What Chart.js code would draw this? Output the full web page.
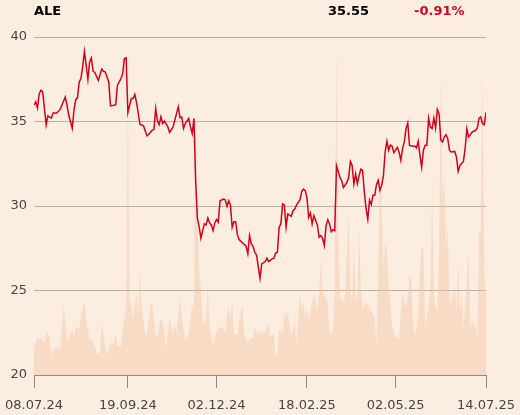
<!DOCTYPE html>
<html>
<head>
<meta charset="utf-8">
<script src="https://cdn.jsdelivr.net/npm/chart.js@4/dist/chart.umd.min.js"></script>
<style>
  html, body { margin: 0; padding: 0; background: #fcede1; }
  #wrap { position: relative; width: 520px; height: 415px; }
</style>
</head>
<body>
<div id="wrap"><canvas id="chart" width="520" height="415"></canvas></div>
<script>
// ── Data ──
const ticker = 'ALE';
const lastPrice = '35.55';
const dayChange = '-0.91%';

// x ticks (session index) and their labels
const tickDays = [0, 54, 105, 157, 208, 260];
const tickLabels = ['08.07.24', '19.09.24', '02.12.24', '18.02.25', '02.05.25', '14.07.25'];

// closing price, by session index
const priceDays = [0,1,2,3,4,5,7,8,10,11,13,15,16,18,19,20,22,23,24,25,26,27,28,29,30,31,32,33,34,35,37,39,40,41,43,44,46,47,48,50,51,52,53,54,55,56,57,58,59,61,63,65,66,68,69,70,71,72,73,74,75,77,78,80,81,83,84,85,86,87,89,90,91,92,93,94,95,96,97,98,99,100,101,102,103,104,105,106,107,109,110,111,112,113,114,115,116,117,118,120,122,123,124,125,126,127,128,130,131,133,134,135,137,138,139,140,141,142,143,144,145,146,148,149,150,151,153,154,155,156,157,158,159,160,161,163,164,165,166,167,168,169,170,171,172,173,174,176,177,178,180,181,182,183,184,185,186,187,188,189,190,191,192,193,194,195,196,197,198,199,200,201,202,203,204,205,206,207,209,210,211,212,213,214,215,216,217,219,220,221,222,223,224,225,226,227,228,229,230,231,232,233,234,235,236,237,238,239,240,242,243,244,245,247,248,249,250,251,252,254,255,256,257,258,259,260];
const prices = [35.96,36.16,35.8,36.65,36.85,36.75,34.8,35.33,35.2,35.5,35.5,35.7,35.96,36.45,35.96,35.37,34.6,35.67,36.3,36.4,37.34,37.54,38.23,39.15,38.33,37.5,38.52,38.76,37.97,37.9,37.44,38.1,37.97,37.93,37.34,35.93,35.96,36.0,37.15,37.54,37.83,38.72,38.76,35.53,35.96,36.36,36.36,36.6,36.12,34.82,34.74,34.15,34.23,34.49,34.53,35.77,35.02,34.82,35.28,34.88,35.02,34.68,34.35,34.68,35.08,35.87,35.22,35.26,34.59,34.88,35.18,34.68,34.29,35.18,31.44,29.27,28.78,28.09,28.54,28.94,28.88,29.29,29.0,28.88,28.54,29.0,29.2,29.04,30.31,30.41,30.37,29.98,30.31,30.06,28.74,29.07,29.07,28.29,28.01,27.81,27.62,27.17,28.25,27.76,27.62,27.26,27.1,25.73,26.57,26.71,26.91,26.71,26.87,26.91,27.22,27.26,28.74,28.94,30.12,30.06,28.74,29.53,29.39,29.72,29.82,30.06,30.37,30.85,31.0,30.91,30.51,29.33,29.59,28.94,29.43,28.88,28.15,28.25,28.09,27.66,28.84,29.19,28.94,28.48,28.6,28.54,32.38,31.7,31.5,31.1,31.4,31.7,32.64,32.4,31.3,31.9,31.32,31.8,32.17,32.1,30.83,29.84,29.21,30.34,30.08,30.63,30.63,31.26,31.52,30.93,31.22,31.81,33.2,33.83,33.3,33.6,33.55,33.16,33.47,33.2,32.7,33.4,33.79,34.58,34.91,33.59,33.55,33.55,33.43,33.83,33.0,32.3,33.3,33.6,33.6,35.2,34.67,34.58,35.2,34.6,35.72,35.46,33.89,33.79,34.08,34.22,33.98,33.3,33.2,33.23,32.9,32.05,32.4,32.64,33.39,34.58,34.08,34.22,34.38,34.48,34.62,35.2,35.27,34.87,34.81,35.55];

// traded volume, relative (0-100 = full plot height)
const volDays = [0,2,3,4,6,7,9,10,12,13,15,17,18,19,21,22,23,24,26,27,29,30,32,33,35,36,38,39,41,42,43,45,46,47,48,50,51,53,54,55,57,59,60,61,62,64,65,67,68,70,71,73,75,76,77,78,80,81,82,84,85,87,88,89,91,92,93,94,95,96,97,99,100,101,103,104,106,108,110,111,112,113,114,115,117,118,120,121,123,124,126,127,129,130,131,133,135,136,138,139,140,141,143,144,145,146,147,148,150,151,153,154,155,156,157,158,160,161,163,164,165,166,167,169,170,171,172,173,174,175,176,178,179,181,182,183,184,185,186,187,188,189,191,193,194,196,197,198,199,201,202,203,204,206,207,209,210,211,212,213,214,216,217,218,219,221,222,223,224,225,227,228,229,230,231,232,233,234,235,236,237,238,239,240,242,243,244,245,246,247,249,250,251,252,254,255,256,257,258,259,260];
const volumes = [7.9,11.3,10.4,11.2,9.4,12.8,11.3,5.9,7.9,8.4,7.9,20.2,16.3,9.6,12.3,13.3,11.3,14.3,13.3,18.3,21.7,16.3,10.4,10.9,8.4,6.4,6.6,15.5,8.4,5.6,7.9,9.4,8.9,12.5,8.4,8.4,13.3,20.2,85.8,23.2,16.8,25.1,18.3,30.1,20.2,11.8,12.3,20.7,21.4,11.2,11.3,17.2,13.3,7.4,13.3,16.3,12.3,15.3,12.3,23.2,17.2,10.9,10.9,12.3,21.2,18.7,79.4,45.4,29.6,26.6,15.3,16.3,27,14.8,8.4,11.3,13.8,14.3,12.8,17.2,20.7,16.3,22.2,12.3,11.8,16.3,20.4,11.8,9.4,10.9,10.9,14.1,11.8,13.3,12.3,12.8,15.1,11.3,12.3,5.4,6.9,13.8,12.3,18.3,17.2,18.7,14.3,11.8,15.8,9.4,24.3,19.2,22.2,17.2,19.7,16.3,21.7,24.0,19.2,24.2,35.0,24.2,23.7,21.2,12.5,12.3,13.8,25,98.6,41.4,22.7,21.7,23.7,48.3,25.6,21.7,39.4,21.7,23.7,44.4,25.6,19.7,21.7,19.7,18.7,16.8,8.9,27.6,65.1,31.6,39.4,36.5,26.6,14.8,11.8,10.9,10.4,18.7,24.6,21.7,20,28.6,29.1,15.3,10.9,17.2,31.1,38.2,37.0,14.3,20.2,26.1,53.3,24.6,20.2,18.3,35,89.3,50,59.7,36,43.9,22.2,21.2,26.1,18.7,34.0,19.2,24.2,14.3,27.1,37.0,13.3,15.8,14.3,10.4,41.9,42.9,89.3,31.1,22.2];

// ── Style ──
const FONT = "'DejaVu Sans', sans-serif";
const RED = '#d0021b';
const GRID = '#b4afa9';
const AXIS = '#8c8c8c';
const LABEL = '#454545';

// header text drawn on the canvas
const headerPlugin = {
  id: 'header',
  afterDraw(chart) {
    const ctx = chart.ctx;
    ctx.save();
    ctx.font = 'bold 13px ' + FONT;
    ctx.textBaseline = 'alphabetic';
    ctx.textAlign = 'left';
    ctx.fillStyle = '#000';
    ctx.fillText(ticker, 34, 15);
    ctx.fillText(lastPrice, 328, 15);
    ctx.fillStyle = RED;
    ctx.fillText(dayChange, 414, 15);
    ctx.restore();
  }
};

new Chart(document.getElementById('chart'), {
  type: 'line',
  data: {
    datasets: [
      {
        label: 'Price',
        data: priceDays.map((d, i) => ({ x: d, y: prices[i] })),
        borderColor: RED, borderWidth: 1.5, pointRadius: 0, tension: 0,
        fill: false, yAxisID: 'y', order: 0
      },
      {
        label: 'Volume',
        data: volDays.map((d, i) => ({ x: d, y: volumes[i] })),
        borderWidth: 0, pointRadius: 0, tension: 0,
        backgroundColor: 'rgba(242,195,160,0.42)',
        fill: 'origin', yAxisID: 'y2', order: 1
      }
    ]
  },
  options: {
    responsive: false,
    animation: false,
    devicePixelRatio: 1,
    layout: { autoPadding: false, padding: { top: 37, right: 34, left: 0, bottom: 0 } },
    plugins: { legend: { display: false }, tooltip: { enabled: false } },
    scales: {
      x: {
        type: 'linear', min: 0, max: 260,
        afterBuildTicks: axis => { axis.ticks = tickDays.map(v => ({ value: v })); },
        // keep plot edges at the axis box; end labels may hang over
        afterFit: s => { s.height = 40; s.paddingLeft = 0; s.paddingRight = 0; },
        ticks: {
          autoSkip: false, maxRotation: 0, padding: 10,
          font: { family: FONT, size: 13 }, color: LABEL,
          callback: (v, i) => tickLabels[i]
        },
        grid: { drawOnChartArea: false, drawTicks: true, tickLength: 13, color: AXIS },
        border: { display: true, color: AXIS }
      },
      y: {
        position: 'left', min: 20, max: 40,
        afterFit: s => { s.width = 34; },
        ticks: { stepSize: 5, padding: 7, font: { family: FONT, size: 13 }, color: LABEL },
        grid: { color: GRID, drawTicks: false },
        border: { display: false }
      },
      y2: { display: false, min: 0, max: 100 }
    }
  },
  plugins: [headerPlugin]
});
</script>
</body>
</html>
